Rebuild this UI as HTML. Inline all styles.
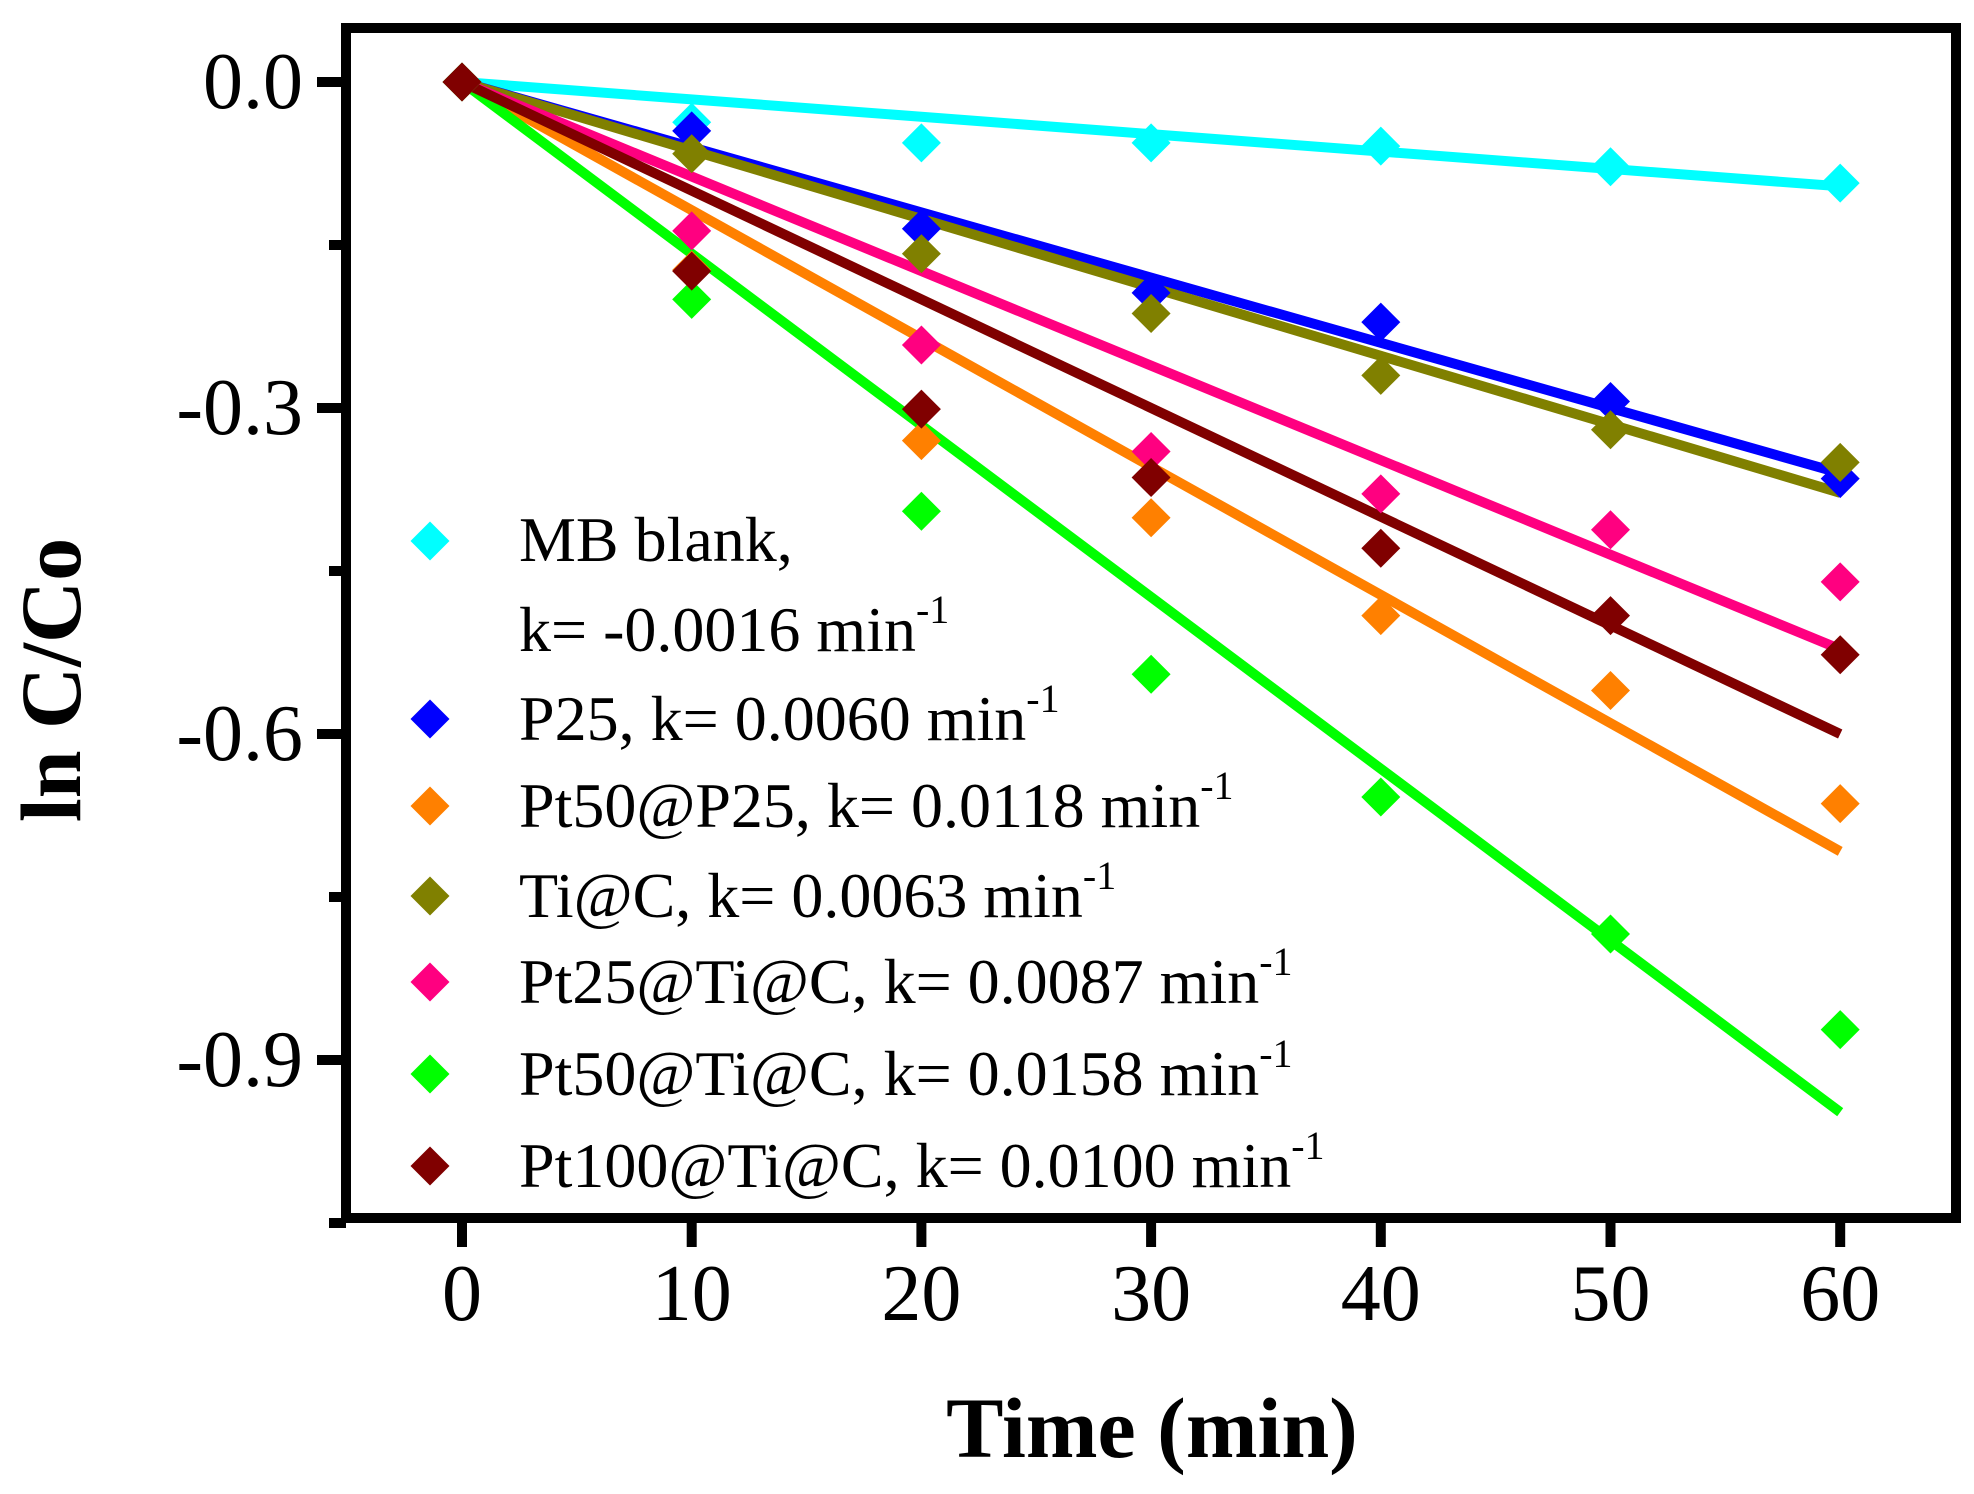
<!DOCTYPE html>
<html><head><meta charset="utf-8"><style>
html,body{margin:0;padding:0;background:#fff;}
svg{display:block;font-family:"Liberation Serif",serif;}
</style></head><body>
<svg id="chart" width="1974" height="1494" viewBox="0 0 1974 1494">
<g id="lines"></g>
<g id="marks"></g>
<rect x="346" y="28" width="1610" height="1190" fill="none" stroke="#000" stroke-width="10"/>
<g id="axes"></g>
<g id="legend"></g>
<text x="1152" y="1457" font-size="86" font-weight="bold" text-anchor="middle">Time (min)</text>
<text transform="translate(80,680) rotate(-90)" font-size="86" font-weight="bold" text-anchor="middle">ln C/Co</text>
</svg>
<script>
const times = [0,10,20,30,40,50,60];
const seriesNames = ["MB blank","P25","Pt50@P25","Ti@C","Pt25@Ti@C","Pt50@Ti@C","Pt100@Ti@C"];
const seriesColors = ["#00ffff","#0000ff","#ff8000","#808000","#ff0080","#00ff00","#800000"];
const mbBlank = [0,-0.037,-0.056,-0.056,-0.059,-0.078,-0.093];
const p25 = [0,-0.045,-0.135,-0.194,-0.221,-0.294,-0.365];
const pt50p25 = [0,-0.173,-0.330,-0.401,-0.491,-0.560,-0.664];
const tiC = [0,-0.066,-0.158,-0.213,-0.270,-0.320,-0.350];
const pt25 = [0,-0.137,-0.242,-0.340,-0.379,-0.412,-0.460];
const pt50 = [0,-0.200,-0.395,-0.545,-0.658,-0.784,-0.872];
const pt100 = [0,-0.174,-0.301,-0.364,-0.429,-0.491,-0.527];
const slopes = [-0.0016,-0.0060,-0.0118,-0.0063,-0.0087,-0.0158,-0.0100];
const legendLabels = ["k= -0.0016 min","P25, k= 0.0060 min","Pt50@P25, k= 0.0118 min","Ti@C, k= 0.0063 min","Pt25@Ti@C, k= 0.0087 min","Pt50@Ti@C, k= 0.0158 min","Pt100@Ti@C, k= 0.0100 min"];
const xTicks = [0,10,20,30,40,50,60];
const yTicks = [0,-0.3,-0.6,-0.9];
const yTickLabels = ["0.0","-0.3","-0.6","-0.9"];
const yMinorTicks = [-0.15,-0.45,-0.75,-1.05];

const allSeries = [mbBlank,p25,pt50p25,tiC,pt25,pt50,pt100];
const NS="http://www.w3.org/2000/svg";
function X(t){return 462 + t*22.97;}
function Y(v){return 82 - v*1086.7;}
function el(tag, attrs, parent){const e=document.createElementNS(NS,tag);for(const k in attrs)e.setAttribute(k,attrs[k]);parent.appendChild(e);return e;}
function diamond(cx,cy,r){return `${cx},${cy-r} ${cx+r},${cy} ${cx},${cy+r} ${cx-r},${cy}`;}

const gl=document.getElementById('lines'), gm=document.getElementById('marks'), ga=document.getElementById('axes'), gleg=document.getElementById('legend');
allSeries.forEach((s,i)=>{
  const ln=el('line',{x1:X(0),y1:Y(0),x2:X(60),y2:Y(slopes[i]*60),stroke:seriesColors[i],'stroke-width':10},gl);
  
  
});
allSeries.forEach((s,i)=>{
  s.forEach((v,j)=>{
    const p=el('polygon',{points:diamond(X(times[j]),Y(v),19.5),fill:seriesColors[i]},gm);
    
    
  });
});
xTicks.forEach(t=>{
  const l=el('line',{x1:X(t),y1:1218,x2:X(t),y2:1247,stroke:'#000','stroke-width':10},ga);
  
  
  const tx=el('text',{x:X(t),y:1320,'font-size':80,'text-anchor':'middle'},ga);
  tx.textContent=t;
  
  
});
yTicks.forEach((v,i)=>{
  const l=el('line',{x1:317,y1:Y(v),x2:346,y2:Y(v),stroke:'#000','stroke-width':10},ga);
  
  
  const tx=el('text',{x:303,y:Y(v)+26,'font-size':80,'text-anchor':'end'},ga);
  tx.textContent=yTickLabels[i];
  
  
});
yMinorTicks.forEach(v=>{
  const l=el('line',{x1:329,y1:Y(v),x2:346,y2:Y(v),stroke:'#000','stroke-width':10},ga);
  
  
});
const rowY=[541,807,896,982,1074,1166];
const legRows=[719,806,896,982,1074,1166];
// MB blank entry
{
  const p=el('polygon',{points:diamond(430,541,19.5),fill:seriesColors[0]},gleg);
  
  
  const t=el('text',{x:519,y:561,'font-size':64},gleg);
  t.textContent='MB blank,';
  
  
  const t2=el('text',{x:519,y:651,'font-size':64},gleg);
  t2.textContent=legendLabels[0];
  
  
  const s=el('tspan',{'font-size':40,dy:-28},t2); s.textContent='-1';
}
for(let i=1;i<7;i++){
  const cy=legRows[i-1];
  const p=el('polygon',{points:diamond(430,cy,19.5),fill:seriesColors[i]},gleg);
  
  
  const t=el('text',{x:519,y:cy+21,'font-size':64},gleg);
  t.textContent=legendLabels[i];
  
  
  const s=el('tspan',{'font-size':40,dy:-28},t); s.textContent='-1';
}
</script>
</body></html>
